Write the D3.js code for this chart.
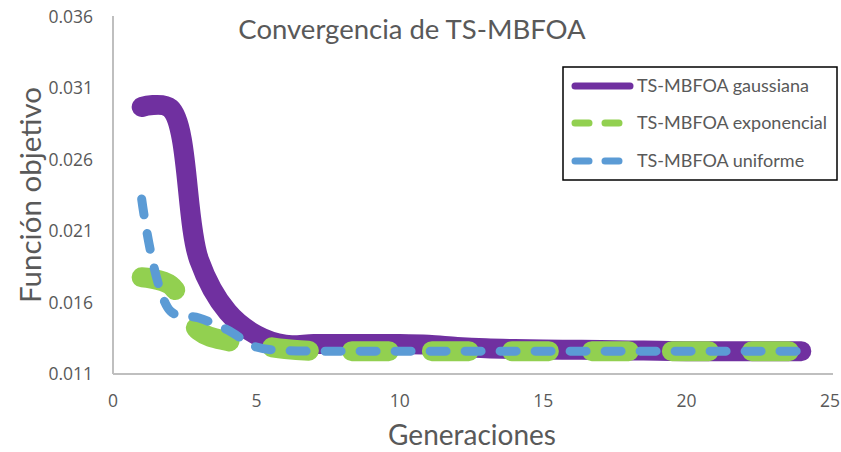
<!DOCTYPE html>
<html>
<head>
<meta charset="utf-8">
<script src="https://cdn.jsdelivr.net/npm/d3@7"></script>
<style>
  body { margin: 0; background: #fff; }
  text { font-family: Lato, "Open Sans", sans-serif; fill: #595959; }
  text.tick { font-family: "Open Sans", Lato, sans-serif; }
</style>
</head>
<body>
<div id="chart"></div>
<script>
var width = 841;
var height = 452;

// generaciones 1..24
var generaciones = [1, 2, 3, 4, 5, 6, 7, 8, 9, 10, 11, 12, 13, 14, 15, 16, 17, 18, 19, 20, 21, 22, 23, 24];
var gaussiana = [0.0297, 0.0296, 0.0190, 0.01534, 0.01373, 0.01305, 0.0131, 0.0131, 0.0131, 0.0131, 0.01305, 0.0129,
  0.0128, 0.01275, 0.01272, 0.0127, 0.01268, 0.01265, 0.01263, 0.0126, 0.0126, 0.0126, 0.0126, 0.0126];
var exponencial = [0.01777, 0.01723, 0.01401, 0.01331, 0.01303, 0.01275, 0.01262, 0.0126, 0.0126, 0.0126, 0.0126, 0.0126,
  0.0126, 0.0126, 0.0126, 0.0126, 0.0126, 0.0126, 0.0126, 0.0126, 0.0126, 0.0126, 0.0126, 0.0126];
var uniforme = [0.02325, 0.01541, 0.01492, 0.01408, 0.01289, 0.01265, 0.0126, 0.0126, 0.0126, 0.0126, 0.0126, 0.0126,
  0.0126, 0.0126, 0.0126, 0.0126, 0.0126, 0.0126, 0.0126, 0.0126, 0.0126, 0.0126, 0.0126, 0.0126];

var xTicks = [0, 5, 10, 15, 20, 25];
var yTicks = [0.011, 0.016, 0.021, 0.026, 0.031, 0.036];

var series = [
  { name: 'TS-MBFOA gaussiana', values: gaussiana, color: '#7030a0', width: 20, dash: null, legendDash: null },
  { name: 'TS-MBFOA exponencial', values: exponencial, color: '#92d050', width: 20, dash: '37,43', legendDash: '14,16' },
  { name: 'TS-MBFOA uniforme', values: uniforme, color: '#5b9bd5', width: 9, dash: '16,19', legendDash: '14,16' }
];

var svg = d3.select('#chart')
  .append('svg')
  .attr('width', width)
  .attr('height', height);

var x = d3.scaleLinear().domain([0, 25]).range([113, 830]);
var y = d3.scaleLinear().domain([0.011, 0.036]).range([374, 17]);

// ejes
svg.append('line')
  .attr('x1', x(0)).attr('x2', x(0))
  .attr('y1', y(0.036) - 1).attr('y2', y(0.011))
  .attr('stroke', '#bfbfbf').attr('stroke-width', 2);
svg.append('line')
  .attr('x1', x(0)).attr('x2', 833)
  .attr('y1', y(0.011)).attr('y2', y(0.011))
  .attr('stroke', '#bfbfbf').attr('stroke-width', 2);

svg.selectAll('.ytick')
  .data(yTicks)
  .enter()
  .append('text')
  .attr('class', 'tick')
  .attr('x', 93)
  .attr('y', function (d) { return y(d) + 6; })
  .attr('text-anchor', 'end')
  .attr('font-size', 17.5)
  .text(function (d) { return d3.format('.3f')(d); });

svg.selectAll('.xtick')
  .data(xTicks)
  .enter()
  .append('text')
  .attr('class', 'tick')
  .attr('x', function (d) { return x(d); })
  .attr('y', 407)
  .attr('text-anchor', 'middle')
  .attr('font-size', 17.5)
  .text(function (d) { return d; });

// lineas
var line = d3.line()
  .x(function (d, i) { return x(generaciones[i]); })
  .y(function (d) { return y(d); })
  .curve(d3.curveCatmullRom.alpha(0.5));

series.forEach(function (s) {
  svg.append('path')
    .attr('d', line(s.values))
    .attr('fill', 'none')
    .attr('stroke', s.color)
    .attr('stroke-width', s.width)
    .attr('stroke-linecap', 'round')
    .attr('stroke-linejoin', 'round')
    .attr('stroke-dasharray', s.dash);
});

// titulos
svg.append('text')
  .attr('x', 412).attr('y', 39)
  .attr('text-anchor', 'middle')
  .attr('font-size', 27.5)
  .text('Convergencia de TS-MBFOA');

svg.append('text')
  .attr('transform', 'translate(41,195) rotate(-90)')
  .attr('text-anchor', 'middle')
  .attr('font-size', 29.5)
  .text('Función objetivo');

svg.append('text')
  .attr('x', 472).attr('y', 445)
  .attr('text-anchor', 'middle')
  .attr('font-size', 28)
  .text('Generaciones');

// leyenda
var legend = svg.append('g');
legend.append('rect')
  .attr('x', 563).attr('y', 67)
  .attr('width', 274).attr('height', 113)
  .attr('fill', '#fff')
  .attr('stroke', '#000')
  .attr('stroke-width', 1.5);

var legendY = [86, 123, 161];
series.forEach(function (s, i) {
  legend.append('line')
    .attr('x1', 575).attr('x2', s.legendDash ? 620 : 630)
    .attr('y1', legendY[i]).attr('y2', legendY[i])
    .attr('stroke', s.color)
    .attr('stroke-width', 7)
    .attr('stroke-linecap', 'round')
    .attr('stroke-dasharray', s.legendDash);
  legend.append('text')
    .attr('x', 637)
    .attr('y', legendY[i] + 6)
    .attr('font-size', 18)
    .text(s.name);
});
</script>
</body>
</html>
